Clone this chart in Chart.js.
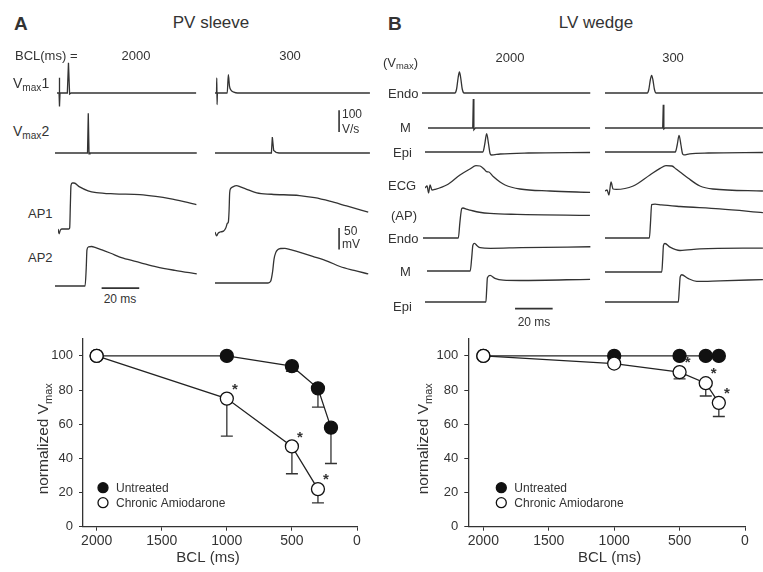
<!DOCTYPE html>
<html><head><meta charset="utf-8">
<script src="https://cdn.jsdelivr.net/npm/chart.js@4/dist/chart.umd.min.js"></script>
<style>
body{margin:0;background:#fff;}
#root{position:relative;width:763px;height:572px;overflow:hidden;font-family:"Liberation Sans",Arial,sans-serif;color:#333;}
#root canvas{position:absolute;}
.t{position:absolute;white-space:nowrap;line-height:1;}
.t sub{font-size:0.72em;vertical-align:-0.25em;line-height:0;}
</style></head><body><div id="root"></div>
<script>
// ---------------- DATA ----------------
// Panel A (PV sleeve) traces: [time ms, value] ; Vmax in V/s, AP in mV (rest = 0)
const pvVmax1_2000 = [[0,0],[1.1,0],[1.25,70],[1.4,-62],[1.6,0],[5.5,0],[6.1,139],[6.7,-5],[7.5,0],[74,0]];
const pvVmax1_300  = [[0,0],[0.8,0],[0.95,70],[1.1,-54],[1.3,0],[6.5,0],[7.1,84],[7.7,32],[8.6,12],[10,4],[12,0],[82.4,0]];
const pvVmax2_2000 = [[0,0],[17.3,0],[17.7,183],[18.1,-4],[18.6,0],[75.4,0]];
const pvVmax2_300  = [[0,0],[30,0],[30.5,74],[31.2,12],[32.5,3],[34,0],[82.4,0]];
const pvAP1_2000 = [[0,0],[0.6,-11],[1.2,-3],[2,0],[5.7,0],[6.2,2],[6.6,60],[6.9,100],[7.6,106],[8.5,106],[11.5,97],[16,88],[20.4,84],[30,81],[43.5,79],[52,75],[59.4,70],[67,63],[73.6,56]];
const pvAP1_300  = [[0,0],[0.9,-9],[1.6,-3],[2.7,0],[4.5,2],[5.8,10],[6.6,20],[7.1,23],[7.5,50],[7.8,90],[8.3,100],[9.5,104],[11.5,107],[13.5,104],[16,100],[22.2,90],[30,87],[45,84],[53,79],[61,71],[70,60],[81.5,46]];
const pvAP2_2000 = [[0,0],[16,0],[16.6,40],[17,83],[17.8,90],[19.5,91],[21.3,89],[25,83],[29.3,76],[36.3,64],[45.2,54],[54,44],[63.8,36],[75.4,28]];
const pvAP2_300  = [[0,0],[15,0],[28.2,0],[29.6,4],[30.6,25],[31.4,55],[32.3,70],[33.5,77],[35,79.5],[37.2,80],[40,77],[42.6,74],[52.3,61],[60,50],[66.5,38],[74,29],[81.5,21]];

// Panel B (LV wedge) traces
const lvVmaxEndo_2000 = [[0,0],[17.5,0],[18.4,40],[19.2,150],[19.9,210],[20.6,150],[21.4,40],[22.4,0],[89.5,0]];
const lvVmaxEndo_300  = [[0,0],[22.5,0],[23.3,35],[24.1,130],[24.8,177],[25.5,130],[26.3,35],[27.2,0],[84,0]];
const lvVmaxM_2000 = [[0,0],[23.8,0],[24.1,290],[24.4,-17],[25.2,0],[86.2,0]];
const lvVmaxM_300  = [[0,0],[30.7,0],[31,233],[31.3,-10],[32,0],[84,0]];
const lvVmaxEpi_2000 = [[0,0],[30.8,0],[31.8,80],[32.8,184],[33.8,80],[34.6,-15],[35.3,-30],[40,-20],[55,-10],[87.8,-5]];
const lvVmaxEpi_300  = [[0,0],[37.4,0],[38.4,70],[39.4,167],[40.4,70],[41.2,-15],[41.9,-28],[45,-18],[55,-10],[84,-5]];
const lvECG_2000 = [[0,0.1],[1.1,0.2],[1.9,-0.15],[2.7,0.25],[3.7,0],[5.3,0.03],[11.5,0.25],[18.6,0.75],[23.9,1.05],[27.1,1.22],[29.3,1.2],[31.4,1.05],[32.8,0.92],[34,0.9],[36.3,0.67],[39.9,0.4],[42.6,0.25],[50.5,0.05],[66.5,-0.05],[87.8,-0.12]];
const lvECG_300  = [[0,-0.05],[1.1,0],[2.1,-0.25],[3.2,0.4],[4.3,0.05],[5.9,0.03],[15,0.2],[23.9,0.75],[29.3,1.08],[32.4,1.22],[35.6,1.2],[37.8,1.05],[39.9,0.9],[44.1,0.6],[50.5,0.2],[57.4,0.05],[84,-0.05]];
const lvAPEndo_2000 = [[0,0],[18.8,0],[19.6,50],[20.6,97],[21.3,99],[23,95],[25,92],[30,85],[35.6,81],[50,78],[88.8,75]];
const lvAPEndo_300  = [[0,0],[23.6,0],[24.2,50],[24.8,110],[26.6,112],[30,109],[39.9,104],[61,96],[84,84]];
const lvAPM_2000 = [[0,0],[23,0],[23.8,45],[24.4,85],[25.3,91],[26.7,83],[28.3,77],[33.7,75],[50,77],[86.9,80]];
const lvAPM_300  = [[0,0],[30.2,0],[30.7,45],[31.1,88],[31.9,94],[34.6,82],[39.9,71],[50.5,76],[84,79]];
const lvAPEpi_2000 = [[0,0],[32.4,0],[32.8,40],[33.2,80],[34.6,88],[37.2,78],[41.6,72],[50.5,71],[87.8,75]];
const lvAPEpi_300  = [[0,0],[39,0],[39.5,40],[40,83],[40.8,90],[44.1,78],[48.8,68],[61.2,70],[84,74]];

// Scale bars (amplitude)
const scaleVmax = 100;   // V/s
const scaleAP = 50;      // mV
const scaleTime = 20;    // ms

// Summary plots: normalized Vmax vs BCL
const bclUntreated = [2000, 1000, 500, 300, 200];
const bclAmio = [2000, 1000, 500, 300];
const bclAmioLV = [2000, 1000, 500, 300, 200];
const pvUntreated = [100, 100, 94, 81, 58];
const pvUntreatedErr = [0, 0, 3, 11, 21];
const pvAmio = [100, 75, 47, 22];
const pvAmioErr = [0, 22, 16, 8];
const pvAmioSig = [false, true, true, true];
const lvUntreated = [100, 100, 100, 100, 100];
const lvUntreatedErr = [0, 0, 0, 0, 0];
const lvAmio = [100, 95.5, 90.5, 84, 72.5];
const lvAmioErr = [0, 2, 4, 7.5, 8];
const lvAmioSig = [false, false, true, true, true];
const xTicks = [2000, 1500, 1000, 500, 0];
const yTicks = [0, 20, 40, 60, 80, 100];
const seriesNames = ['Untreated', 'Chronic Amiodarone'];

// ---------------- LAYOUT ----------------
const root = document.getElementById('root');
const INK = '#333';
const PX_MS = 1.88;
const PV_VMAX_PX = 0.217, PV_AP_PX = 0.434;
const LV_VMAX_PX = 0.1, LV_ECG_PX = 20, LV_AP_PX = 0.303;

const traces = [
  {d:pvVmax1_2000, x0:57, base:93.3, pxV:PV_VMAX_PX, w:142, up:32, down:16},
  {d:pvVmax1_300, x0:215, base:93.3, pxV:PV_VMAX_PX, w:158, up:32, down:16, smooth:true},
  {d:pvVmax2_2000, x0:55, base:152.7, pxV:PV_VMAX_PX, w:145, up:42, down:8},
  {d:pvVmax2_300, x0:215, base:152.7, pxV:PV_VMAX_PX, w:160, up:46, down:8,
    bars:[{t:66, v:97, dv:scaleVmax}]},
  {d:pvAP1_2000, x0:58.3, base:229.3, pxV:PV_AP_PX, w:142, up:50, down:10, smooth:true},
  {d:pvAP1_300, x0:215, base:231.7, pxV:PV_AP_PX, w:158, up:50, down:10, smooth:true},
  {d:pvAP2_2000, x0:55, base:286, pxV:PV_AP_PX, w:145, up:42, down:6, smooth:true,
    bars:[{t:24.8, v:-5, dt:scaleTime}]},
  {d:pvAP2_300, x0:215, base:283.3, pxV:PV_AP_PX, w:160, up:58, down:6, smooth:true,
    bars:[{t:66, v:77, dv:scaleAP}]},

  {d:lvVmaxEndo_2000, x0:421.7, base:92.7, pxV:LV_VMAX_PX, w:170, up:24, down:6, smooth:true},
  {d:lvVmaxEndo_300, x0:605, base:92.7, pxV:LV_VMAX_PX, w:160, up:24, down:6, smooth:true},
  {d:lvVmaxM_2000, x0:428, base:128.3, pxV:LV_VMAX_PX, w:164, up:32, down:6},
  {d:lvVmaxM_300, x0:605, base:128.3, pxV:LV_VMAX_PX, w:160, up:32, down:6},
  {d:lvVmaxEpi_2000, x0:425, base:151.7, pxV:LV_VMAX_PX, w:167, up:22, down:8, smooth:true},
  {d:lvVmaxEpi_300, x0:605, base:151.7, pxV:LV_VMAX_PX, w:160, up:22, down:8, smooth:true},
  {d:lvECG_2000, x0:425, base:190, pxV:LV_ECG_PX, w:167, up:30, down:8, smooth:true},
  {d:lvECG_300, x0:605, base:190, pxV:LV_ECG_PX, w:160, up:30, down:8, smooth:true},
  {d:lvAPEndo_2000, x0:423, base:237.7, pxV:LV_AP_PX, w:169, up:34, down:4, smooth:true},
  {d:lvAPEndo_300, x0:605, base:238.3, pxV:LV_AP_PX, w:160, up:38, down:4, smooth:true},
  {d:lvAPM_2000, x0:426.7, base:271, pxV:LV_AP_PX, w:165, up:32, down:4, smooth:true},
  {d:lvAPM_300, x0:605, base:271.7, pxV:LV_AP_PX, w:160, up:32, down:4, smooth:true},
  {d:lvAPEpi_2000, x0:425, base:301.7, pxV:LV_AP_PX, w:167, up:30, down:10, smooth:true,
    bars:[{t:47.9, v:-21.8, dt:scaleTime}]},
  {d:lvAPEpi_300, x0:605, base:302.3, pxV:LV_AP_PX, w:160, up:30, down:4, smooth:true},
];

function addTrace(s){
  const c = document.createElement('canvas');
  const h = s.up + s.down;
  c.width = s.w; c.height = h;
  c.style.left = s.x0 + 'px';
  c.style.top = (s.base - s.up) + 'px';
  root.appendChild(c);
  const datasets = [{
    data: s.d.map(([t, v]) => ({x: t, y: v})),
    showLine: true, borderColor: INK, borderWidth: 1.3, pointRadius: 0,
    cubicInterpolationMode: s.smooth ? 'monotone' : 'default', tension: 0, clip: false
  }];
  (s.bars || []).forEach(b => {
    const pts = b.dt ? [{x:b.t, y:b.v}, {x:b.t + b.dt, y:b.v}] : [{x:b.t, y:b.v}, {x:b.t, y:b.v + b.dv}];
    datasets.push({data: pts, showLine: true, borderColor: INK, borderWidth: 1.6, pointRadius: 0, clip: false});
  });
  new Chart(c, {
    type: 'scatter',
    data: {datasets},
    options: {
      responsive: false, animation: false, events: [],
      layout: {padding: 0},
      plugins: {legend: {display: false}, tooltip: {enabled: false}},
      scales: {
        x: {type: 'linear', display: false, min: 0, max: s.w / PX_MS},
        y: {type: 'linear', display: false, min: -s.down / s.pxV, max: s.up / s.pxV}
      }
    }
  });
}
traces.forEach(addTrace);

// Text labels
const labels = [
  {h:'A', x:14, y:23, s:19, b:true},
  {h:'PV sleeve', x:211, y:22, s:17, c:true},
  {h:'BCL(ms) =', x:15, y:55, s:13},
  {h:'2000', x:136, y:55, s:13, c:true},
  {h:'300', x:290, y:55, s:13, c:true},
  {h:'V<sub>max</sub>1', x:13, y:83, s:14},
  {h:'V<sub>max</sub>2', x:13, y:131, s:14},
  {h:'AP1', x:28, y:213, s:13},
  {h:'AP2', x:28, y:257, s:13},
  {h:'100', x:342, y:114, s:12},
  {h:'V/s', x:342, y:129, s:12},
  {h:'50', x:344, y:231, s:12},
  {h:'mV', x:342, y:244, s:12},
  {h:'20 ms', x:120, y:299, s:12, c:true},
  {h:'B', x:388, y:23, s:19, b:true},
  {h:'LV wedge', x:596, y:22, s:17, c:true},
  {h:'(V<sub>max</sub>)', x:383, y:62, s:13},
  {h:'2000', x:510, y:57, s:13, c:true},
  {h:'300', x:673, y:57, s:13, c:true},
  {h:'Endo', x:388, y:93, s:13},
  {h:'M', x:400, y:127, s:13},
  {h:'Epi', x:393, y:152, s:13},
  {h:'ECG', x:388, y:185, s:13},
  {h:'(AP)', x:391, y:215, s:13},
  {h:'Endo', x:388, y:238, s:13},
  {h:'M', x:400, y:271, s:13},
  {h:'Epi', x:393, y:306, s:13},
  {h:'20 ms', x:534, y:322, s:12, c:true},
];
labels.forEach(l => {
  const d = document.createElement('div');
  d.className = 't';
  d.innerHTML = l.h;
  d.style.left = l.x + 'px';
  d.style.top = l.y + 'px';
  d.style.fontSize = l.s + 'px';
  if (l.b) d.style.fontWeight = 'bold';
  d.style.transform = l.c ? 'translate(-50%,-50%)' : 'translate(0,-50%)';
  root.appendChild(d);
});

// ---------------- SUMMARY CHARTS ----------------
const FONT = '"Liberation Sans", Arial';
const summaryPlugin = {
  id: 'summary',
  beforeDatasetsDraw(chart) {
    const ctx = chart.ctx, ys = chart.scales.y;
    chart.data.datasets.forEach((ds, i) => {
      if (!ds.errDown) return;
      const meta = chart.getDatasetMeta(i);
      ctx.save(); ctx.strokeStyle = INK; ctx.lineWidth = 1.3;
      meta.data.forEach((pt, j) => {
        const e = ds.errDown[j]; if (!e) return;
        const yb = ys.getPixelForValue(ds.data[j].y - e);
        ctx.beginPath();
        ctx.moveTo(pt.x, pt.y); ctx.lineTo(pt.x, yb);
        ctx.moveTo(pt.x - 6, yb); ctx.lineTo(pt.x + 6, yb);
        ctx.stroke();
      });
      ctx.restore();
    });
  },
  afterDatasetsDraw(chart) {
    const ctx = chart.ctx;
    chart.data.datasets.forEach((ds, i) => {
      if (!ds.sig) return;
      const meta = chart.getDatasetMeta(i);
      ctx.save(); ctx.fillStyle = INK; ctx.font = 'bold 15px ' + FONT;
      ctx.textAlign = 'center'; ctx.textBaseline = 'middle';
      meta.data.forEach((pt, j) => { if (ds.sig[j]) ctx.fillText('*', pt.x + 8, pt.y - 9); });
      ctx.restore();
    });
  },
  afterDraw(chart) {
    const ctx = chart.ctx, a = chart.chartArea, o = chart.options.plugins.summary;
    ctx.save();
    ctx.fillStyle = INK;
    // y title with subscript
    ctx.translate(o.yTitleX, (a.top + a.bottom) / 2 + 6);
    ctx.rotate(-Math.PI / 2);
    const t1 = 'normalized V';
    ctx.font = '15.5px ' + FONT;
    const w1 = ctx.measureText(t1).width;
    ctx.font = '11px ' + FONT;
    const w2 = ctx.measureText('max').width;
    ctx.textBaseline = 'alphabetic'; ctx.textAlign = 'left';
    ctx.font = '15.5px ' + FONT;
    ctx.fillText(t1, -(w1 + w2) / 2, 5);
    ctx.font = '11px ' + FONT;
    ctx.fillText('max', -(w1 + w2) / 2 + w1, 9);
    ctx.restore();
    // x title
    ctx.save();
    ctx.fillStyle = INK; ctx.font = '15px ' + FONT;
    ctx.textAlign = 'center'; ctx.textBaseline = 'middle';
    ctx.fillText('BCL (ms)', (a.left + a.right) / 2 + o.xTitleDx, a.bottom + 31.5);
    // legend
    ctx.font = '12px ' + FONT;
    ctx.textAlign = 'left';
    const lx = a.left + o.legendDx;
    [[a.bottom - 39, '#111'], [a.bottom - 24, '#fff']].forEach(([ly, fill], k) => {
      ctx.beginPath(); ctx.arc(lx, ly, 5, 0, Math.PI * 2);
      ctx.fillStyle = fill; ctx.fill();
      ctx.lineWidth = 1.3; ctx.strokeStyle = '#111'; ctx.stroke();
      ctx.fillStyle = INK;
      ctx.fillText(seriesNames[k], lx + 13, ly + 0.5);
    });
    ctx.restore();
  }
};

function summary(opts) {
  const c = document.createElement('canvas');
  c.width = opts.w; c.height = opts.h;
  c.style.left = opts.left + 'px'; c.style.top = opts.top + 'px';
  root.appendChild(c);
  new Chart(c, {
    type: 'scatter',
    data: {datasets: [
      {label: seriesNames[1], data: opts.bA.map((x, i) => ({x, y: opts.amio[i]})), errDown: opts.amioErr, sig: opts.amioSig,
        showLine: true, borderColor: '#222', borderWidth: 1.3, pointRadius: 6.5, pointBackgroundColor: '#fff',
        pointBorderColor: '#111', pointBorderWidth: 1.3, clip: false},
      {label: seriesNames[0], data: opts.bU.map((x, i) => ({x, y: opts.untr[i]})), errDown: opts.untrErr,
        showLine: true, borderColor: '#222', borderWidth: 1.3, pointRadius: 6.5, pointBackgroundColor: '#111',
        pointBorderColor: '#111', pointBorderWidth: 1.3, clip: false}
    ]},
    options: {
      responsive: false, animation: false, events: [],
      layout: {padding: {top: opts.padTop, right: opts.padRight, left: 0, bottom: 0}},
      plugins: {legend: {display: false}, tooltip: {enabled: false},
        summary: {yTitleX: opts.yTitleX, xTitleDx: opts.xTitleDx, legendDx: opts.legendDx}},
      scales: {
        x: {type: 'linear', reverse: true, min: 0, max: opts.xMax,
          afterBuildTicks: s => { s.ticks = xTicks.map(v => ({value: v})); },
          afterFit: s => { s.height = opts.xAxisH; },
          grid: {display: true, drawOnChartArea: false, tickLength: 4, color: INK},
          border: {display: true, color: INK, width: 1.3},
          ticks: {font: {family: FONT, size: 14}, color: INK, padding: 2, maxRotation: 0,
            callback: v => String(v)}},
        y: {type: 'linear', min: 0, max: 110,
          afterBuildTicks: s => { s.ticks = yTicks.map(v => ({value: v})); },
          afterFit: s => { s.width = opts.yAxisW; },
          grid: {display: true, drawOnChartArea: false, tickLength: 4, color: INK},
          border: {display: true, color: INK, width: 1.3},
          ticks: {font: {family: FONT, size: 13}, color: INK, padding: 6,
            callback: v => String(v)}}
      }
    },
    plugins: [summaryPlugin]
  });
}

summary({left: 0, top: 325, w: 380, h: 247, padTop: 10, padRight: 23, yAxisW: 83, xAxisH: 45.3, xMax: 2105,
  bU: bclUntreated, untr: pvUntreated, untrErr: pvUntreatedErr,
  bA: bclAmio, amio: pvAmio, amioErr: pvAmioErr, amioSig: pvAmioSig,
  yTitleX: 43, xTitleDx: -12, legendDx: 20});
summary({left: 380, top: 325, w: 383, h: 247, padTop: 10, padRight: 18, yAxisW: 88.3, xAxisH: 45.3, xMax: 2115,
  bU: bclUntreated, untr: lvUntreated, untrErr: lvUntreatedErr,
  bA: bclAmioLV, amio: lvAmio, amioErr: lvAmioErr, amioSig: lvAmioSig,
  yTitleX: 43, xTitleDx: 3, legendDx: 33});
</script>
</body></html>
